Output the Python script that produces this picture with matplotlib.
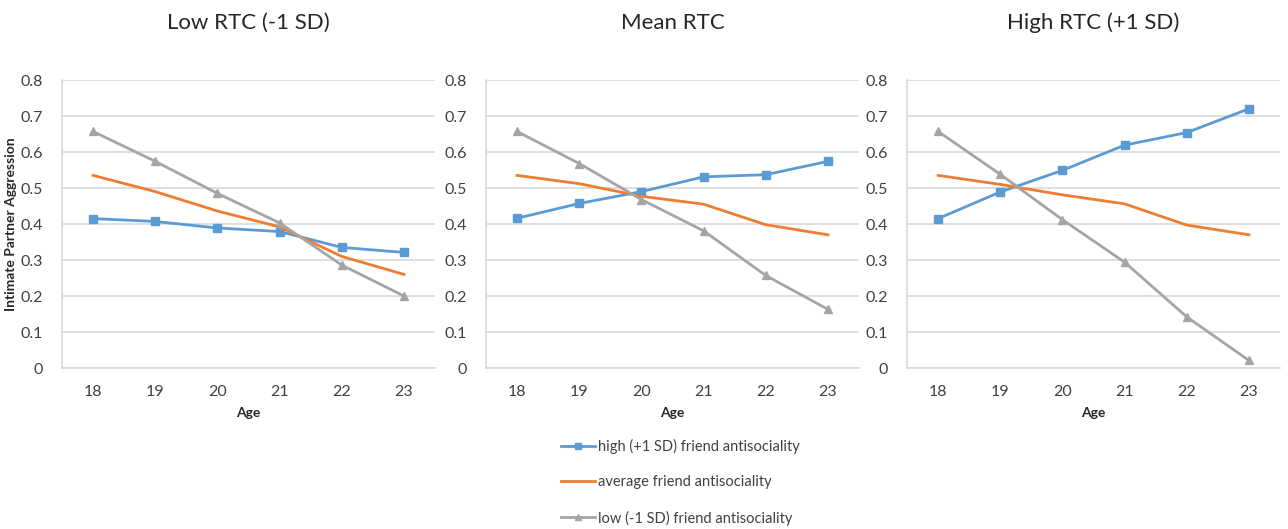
import matplotlib.pyplot as plt

plt.rcParams["font.family"] = ["Lato", "DejaVu Sans"]

ages = [18, 19, 20, 21, 22, 23]
panel_titles = ["Low RTC (-1 SD)", "Mean RTC", "High RTC (+1 SD)"]
series_labels = [
    "high (+1 SD) friend antisociality",
    "average friend antisociality",
    "low (-1 SD) friend antisociality",
]

# values per panel: Low RTC, Mean RTC, High RTC
high_friend = [
    [0.415, 0.407, 0.389, 0.379, 0.335, 0.321],
    [0.416, 0.457, 0.490, 0.531, 0.537, 0.574],
    [0.415, 0.489, 0.549, 0.619, 0.654, 0.720],
]
avg_friend = [
    [0.535, 0.490, 0.436, 0.392, 0.310, 0.260],
    [0.535, 0.512, 0.477, 0.455, 0.398, 0.370],
    [0.535, 0.510, 0.481, 0.456, 0.397, 0.370],
]
low_friend = [
    [0.657, 0.574, 0.485, 0.403, 0.286, 0.200],
    [0.657, 0.568, 0.468, 0.381, 0.257, 0.163],
    [0.657, 0.538, 0.412, 0.294, 0.142, 0.021],
]

BLUE = "#5B9BD5"
ORANGE = "#ED7D31"
GRAY = "#A5A5A5"
GRID = "#D9D9D9"
TEXT = "#404040"

fig = plt.figure(figsize=(12.88, 5.29), dpi=100)
lefts = [62, 486, 907]
x = list(range(len(ages)))

handles = None
for k in range(3):
    ax = fig.add_axes([lefts[k] / 1288, (529 - 368) / 529, 373 / 1288, 288 / 529])
    h1, = ax.plot(x, high_friend[k], color=BLUE, lw=2, marker="s", ms=6)
    h2, = ax.plot(x, avg_friend[k], color=ORANGE, lw=2)
    h3, = ax.plot(x, low_friend[k], color=GRAY, lw=2, marker="^", ms=6)
    handles = [h1, h2, h3]

    ax.set_xlim(-0.5, len(ages) - 0.5)
    ax.set_ylim(0, 0.8)
    ax.set_yticks([0, 0.1, 0.2, 0.3, 0.4, 0.5, 0.6, 0.7, 0.8])
    ax.set_yticklabels(["0", "0.1", "0.2", "0.3", "0.4", "0.5", "0.6", "0.7", "0.8"])
    ax.set_xticks(x)
    ax.set_xticklabels([str(a) for a in ages])
    ax.yaxis.grid(True, color=GRID, lw=1.2)
    ax.set_axisbelow(True)
    ax.tick_params(length=0, labelsize=11.5, labelcolor=TEXT)
    ax.tick_params(axis="x", pad=12)
    ax.tick_params(axis="y", pad=14)
    for s in ["top", "right"]:
        ax.spines[s].set_visible(False)
    for s in ["left", "bottom"]:
        ax.spines[s].set_color(GRID)
        ax.spines[s].set_linewidth(1.2)

    ax.set_xlabel("Age", fontsize=10, fontweight="bold", color="#262626", labelpad=6)
    if k == 0:
        ax.set_ylabel("Intimate Partner Aggression", fontsize=10, fontweight="bold",
                      color="#262626", labelpad=2)
    ax.set_title(panel_titles[k], fontsize=16, color="#262626", pad=37)

fig.legend(handles, series_labels, loc="upper left", bbox_to_anchor=(548 / 1288, 1 - 426 / 529),
           frameon=False, fontsize=10.5, labelspacing=1.45, handlelength=2.3,
           handletextpad=0.2, labelcolor=TEXT, markerscale=0.8)

fig.savefig("out.png", dpi=100)
